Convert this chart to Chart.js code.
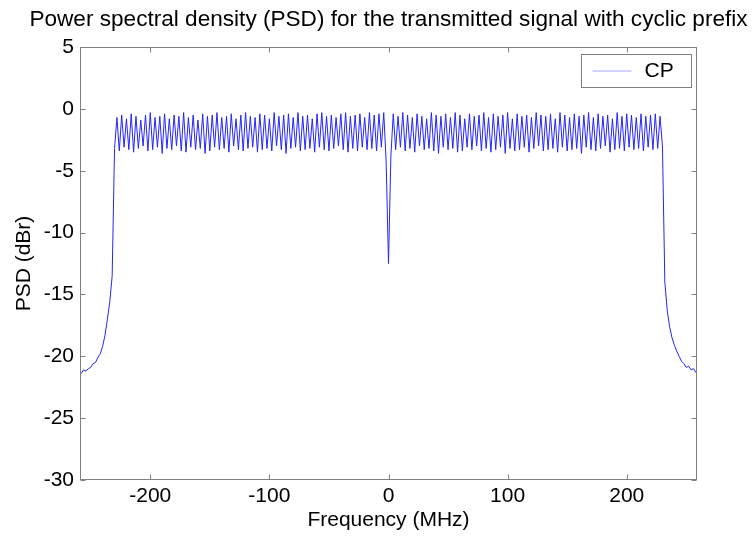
<!DOCTYPE html>
<html>
<head>
<meta charset="utf-8">
<script src="https://cdn.jsdelivr.net/npm/chart.js@4.4.0/dist/chart.umd.min.js"></script>
<style>
  html, body { margin: 0; padding: 0; background: #fff; }
  #wrap { width: 753px; height: 538px; }
</style>
</head>
<body>
<div id="wrap"><canvas id="psdChart"></canvas></div>
<script>
// PSD samples on a 2 MHz grid, -260 .. 260 MHz
const freqStart = -260;
const freqStep = 2;

// -260 .. -232
const psdLeftSkirt = [-21.3, -21.4, -21.1, -21.2, -21.0, -20.9, -20.6, -20.5, -20.1, -19.8,
  -19.2, -18.3, -17.0, -15.6, -13.5];

// -230 .. -4 (low, high pairs)
const psdLeftBand = [
  -3.2, -0.7, -3.4, -0.5, -3.1, -0.8, -3.3, -0.4, -3.5, -0.6, -3.2, -0.9, -3.0, -0.5, -3.4, -0.3, -3.3, -0.7, -3.1, -0.6,
  -3.6, -0.4, -3.2, -0.8, -3.3, -0.5, -3.0, -0.6, -3.4, -0.3, -3.5, -0.7, -3.1, -0.5, -3.3, -0.9, -3.2, -0.4, -3.6, -0.6,
  -3.4, -0.5, -3.1, -0.3, -3.3, -0.7, -3.2, -0.6, -3.5, -0.4, -3.0, -0.8, -3.3, -0.5, -3.4, -0.3, -3.2, -0.6, -3.1, -0.7,
  -3.5, -0.4, -3.3, -0.5, -3.2, -0.8, -3.4, -0.3, -3.0, -0.6, -3.3, -0.5, -3.6, -0.4, -3.2, -0.7, -3.1, -0.3, -3.4, -0.6,
  -3.3, -0.5, -3.2, -0.8, -3.5, -0.4, -3.1, -0.3, -3.3, -0.6, -3.4, -0.5, -3.2, -0.7, -3.0, -0.4, -3.3, -0.3, -3.5, -0.6,
  -3.2, -0.5, -3.4, -0.4, -3.1, -0.7, -3.3, -0.3, -3.2, -0.5, -3.4, -0.4, -3.1, -0.3
];

// -2, 0, 2 (DC notch)
const psdNotch = [-4.2, -12.5, -3.8];

// 4 .. 230 (high, low pairs)
const psdRightBand = [
  -0.4, -3.3, -0.6, -3.1, -0.3, -3.4, -0.5, -3.2, -0.7, -3.5, -0.4, -3.0, -0.6, -3.3, -0.8, -3.2, -0.3, -3.4, -0.5, -3.6,
  -0.6, -3.1, -0.4, -3.3, -0.7, -3.2, -0.3, -3.5, -0.5, -3.4, -0.8, -3.1, -0.4, -3.3, -0.6, -3.0, -0.5, -3.4, -0.3, -3.2,
  -0.7, -3.5, -0.4, -3.3, -0.6, -3.1, -0.5, -3.6, -0.3, -3.2, -0.8, -3.4, -0.4, -3.3, -0.6, -3.1, -0.5, -3.5, -0.7, -3.2,
  -0.3, -3.0, -0.5, -3.4, -0.6, -3.3, -0.4, -3.2, -0.8, -3.5, -0.3, -3.1, -0.5, -3.4, -0.7, -3.3, -0.4, -3.2, -0.6, -3.6,
  -0.5, -3.1, -0.3, -3.3, -0.7, -3.4, -0.4, -3.2, -0.6, -3.0, -0.5, -3.5, -0.8, -3.3, -0.3, -3.2, -0.6, -3.4, -0.4, -3.1,
  -0.5, -3.3, -0.7, -3.2, -0.4, -3.4, -0.6, -3.1, -0.5, -3.3, -0.4, -3.2, -0.6, -3.0
];

// 232 .. 260
const psdRightSkirt = [-14.0, -16.3, -17.6, -18.5, -19.1, -19.6, -20.0, -20.4, -20.6, -20.9,
  -20.8, -21.1, -21.0, -21.3, -21.2];

const xTickValues = [-200, -100, 0, 100, 200];
const chartTitle = 'Power spectral density (PSD) for the transmitted signal with cyclic prefix';
const seriesLabel = 'CP';

const psdValues = psdLeftSkirt.concat(psdLeftBand, psdNotch, psdRightBand, psdRightSkirt);
const points = psdValues.map((v, i) => ({ x: freqStart + i * freqStep, y: v }));

const fontFamily = '"Liberation Sans", Arial, Helvetica, sans-serif';
const axisGray = '#808080';
const lineBlue = '#2424ff';

Chart.defaults.font.family = fontFamily;
Chart.defaults.color = '#000';

// matlab-ish box, inward ticks, title and legend
const matlabFrame = {
  id: 'matlabFrame',
  afterDraw(chart) {
    const { ctx, chartArea: a, scales } = chart;
    const L = Math.round(a.left) + 0.5, R = Math.round(a.right) - 0.5;
    const T = Math.round(a.top) + 0.5, B = Math.round(a.bottom) - 0.5;
    ctx.save();

    ctx.fillStyle = '#000';
    ctx.font = '22.6px ' + fontFamily;
    ctx.textAlign = 'center';
    ctx.textBaseline = 'middle';
    ctx.fillText(chartTitle, (a.left + a.right) / 2, 20);

    ctx.strokeStyle = axisGray;
    ctx.lineWidth = 1;
    ctx.strokeRect(L, T, R - L, B - T);

    ctx.beginPath();
    scales.x.ticks.forEach(t => {
      const px = Math.round(scales.x.getPixelForValue(t.value)) + 0.5;
      ctx.moveTo(px, B); ctx.lineTo(px, B - 5);
      ctx.moveTo(px, T); ctx.lineTo(px, T + 5);
    });
    scales.y.ticks.forEach(t => {
      const py = Math.round(scales.y.getPixelForValue(t.value)) + 0.5;
      ctx.moveTo(L, py); ctx.lineTo(L + 5, py);
      ctx.moveTo(R, py); ctx.lineTo(R - 5, py);
    });
    ctx.stroke();

    // legend box, top right inside the axes
    const bw = 110, bh = 33;
    const bx = Math.round(a.right) - 6 - bw + 0.5, by = Math.round(a.top) + 7 + 0.5;
    ctx.fillStyle = '#fff';
    ctx.fillRect(bx, by, bw, bh);
    ctx.strokeRect(bx, by, bw, bh);
    ctx.strokeStyle = 'rgba(60,60,255,0.45)';
    ctx.beginPath();
    ctx.moveTo(bx + 11, by + 16.5);
    ctx.lineTo(bx + 50, by + 16.5);
    ctx.stroke();
    ctx.fillStyle = '#000';
    ctx.font = '21px ' + fontFamily;
    ctx.textAlign = 'left';
    ctx.fillText(chart.data.datasets[0].label, bx + 63, by + 17);
    ctx.restore();
  }
};

new Chart(document.getElementById('psdChart'), {
  type: 'line',
  data: {
    datasets: [{
      label: seriesLabel,
      data: points,
      borderColor: lineBlue,
      borderWidth: 1,
      pointRadius: 0,
      tension: 0,
      fill: false
    }]
  },
  options: {
    responsive: true,
    maintainAspectRatio: false,
    animation: false,
    devicePixelRatio: 1,
    layout: { padding: { top: 47, right: 56, left: 0, bottom: 0 } },
    plugins: {
      legend: { display: false },
      title: { display: false },
      tooltip: { enabled: false }
    },
    scales: {
      x: {
        type: 'linear',
        min: -259,
        max: 259,
        grid: { display: false, drawTicks: false },
        border: { display: false },
        afterBuildTicks: s => { s.ticks = xTickValues.map(v => ({ value: v })); },
        afterFit: s => { s.height = 58; },
        ticks: { font: { size: 21 }, padding: 4, maxRotation: 0 },
        title: { display: true, text: 'Frequency (MHz)', font: { size: 21 }, padding: { top: 0, bottom: 5 } }
      },
      y: {
        min: -30,
        max: 5,
        grid: { display: false, drawTicks: false },
        border: { display: false },
        afterFit: s => { s.width = 80; },
        ticks: { stepSize: 5, font: { size: 21 }, padding: 6 },
        title: { display: true, text: 'PSD (dBr)', font: { size: 21 }, padding: { top: 12, bottom: 0 } }
      }
    }
  },
  plugins: [matlabFrame]
});
</script>
</body>
</html>
